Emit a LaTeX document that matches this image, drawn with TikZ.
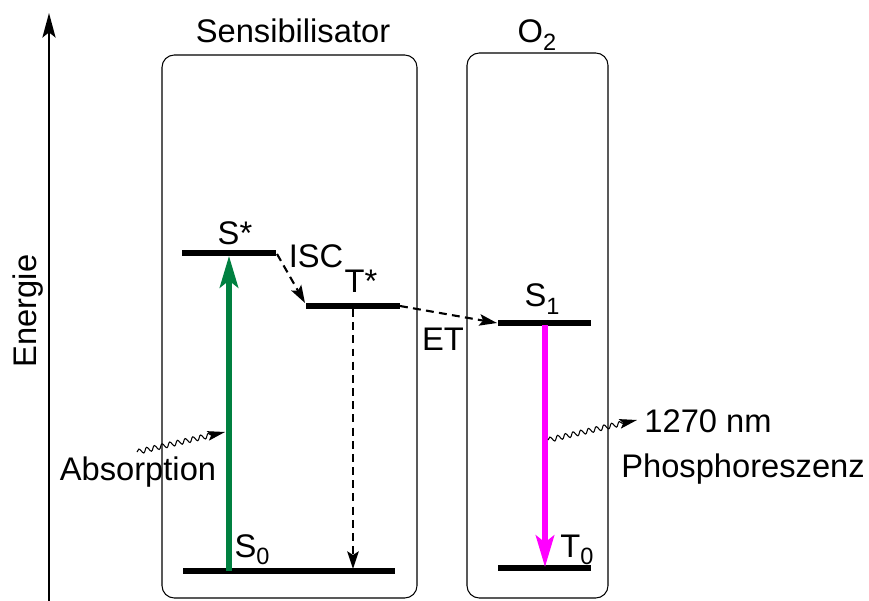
\documentclass[tikz,border=0pt]{standalone}
\usepackage{fontspec}
\setmainfont{Liberation Sans}
\usetikzlibrary{arrows.meta,decorations.pathmorphing}
\definecolor{absgreen}{RGB}{0,128,64}
\definecolor{phosmag}{RGB}{255,0,255}
\newcommand{\lowsub}[1]{\raisebox{-4.5pt}{\fontsize{13.4}{14}\selectfont #1}}
\tikzset{level/.style={line width=3pt},
  box/.style={draw,line width=0.6pt,rounded corners=7pt},
  trans/.style={line width=1.2pt,dash pattern=on 4.5pt off 3pt,-{Stealth[length=10pt,width=6.5pt,inset=2pt]}},
  photon/.style={line width=0.6pt,decorate,decoration={snake,amplitude=1.4pt,segment length=4.5pt,post length=8pt},-{Stealth[length=10pt,width=5.5pt,inset=2pt]}},
  lbl/.style={anchor=base,inner sep=0pt}}

\begin{document}
\begin{tikzpicture}[x=0.02cm,y=-0.02cm,font=\fontsize{18.6}{22}\selectfont]
\useasboundingbox (0,0) rectangle (869,601);
\coordinate (E0) at (49,601); \coordinate (E1) at (49,13);
\draw[line width=1.1pt,-{Stealth[length=14pt,width=7.5pt,inset=3pt]}] (E0)--(E1);
\node[lbl,rotate=90] (energie) at (36,311) {Energie};
\draw[box] (162,55) rectangle (417,598);
\draw[box] (467,53) rectangle (608,598);
\node[lbl] (sens) at (293,43) {Sensibilisator};
\node[lbl] (otwo) at (537,43) {O\lowsub{2}};
\coordinate (Sa) at (182,253); \coordinate (Sb) at (276,253);
\coordinate (Ta) at (306,306); \coordinate (Tb) at (400,306);
\coordinate (Ga) at (183,571); \coordinate (Gb) at (395,571);
\coordinate (Oa) at (498,323); \coordinate (Ob) at (591,323);
\coordinate (Pa) at (498,568); \coordinate (Pb) at (591,568);
\draw[level] (Sa)--(Sb); \draw[level] (Ta)--(Tb); \draw[level] (Ga)--(Gb);
\draw[level] (Oa)--(Ob); \draw[level] (Pa)--(Pb);
\node[lbl] (sstar) at (235,245) {S*};
\node[lbl] (tstar) at (361,293) {T*};
\node[lbl] (szero) at (252,557) {S\lowsub{0}};
\node[lbl] (sone) at (542,307) {S\lowsub{1}};
\node[lbl] (tzero) at (577,557) {T\lowsub{0}};
\node[lbl] (isc) at (316,268) {ISC};
\node[lbl] (et) at (443,350) {ET};
\coordinate (A0) at (229,571); \coordinate (A1) at (229,256);
\draw[absgreen,line width=2.9pt,-{Stealth[length=18pt,width=10.5pt,inset=4pt]}] (A0)--(A1);
\coordinate (M0) at (545,325); \coordinate (M1) at (545,567);
\draw[phosmag,line width=2.9pt,-{Stealth[length=18pt,width=10.5pt,inset=4pt]}] (M0)--(M1);
\coordinate (D0) at (353,309); \coordinate (D1) at (353,569);
\draw[trans] (D0)--(D1);
\coordinate (I0) at (277,254); \coordinate (I1) at (305,303);
\draw[trans] (I0)--(I1);
\coordinate (T0) at (400,306); \coordinate (T1) at (497,323);
\draw[trans] (T0)--(T1);
\coordinate (W0) at (137,452); \coordinate (W1) at (225,432);
\draw[photon] (W0)--(W1);
\coordinate (V0) at (548,440); \coordinate (V1) at (637,420);
\draw[photon] (V0)--(V1);
\node[lbl] (absorption) at (138,480) {Absorption};
\node[lbl] (nm) at (708,432) {1270 nm};
\node[lbl] (phos) at (743,477) {Phosphoreszenz};
\end{tikzpicture}
\end{document}
